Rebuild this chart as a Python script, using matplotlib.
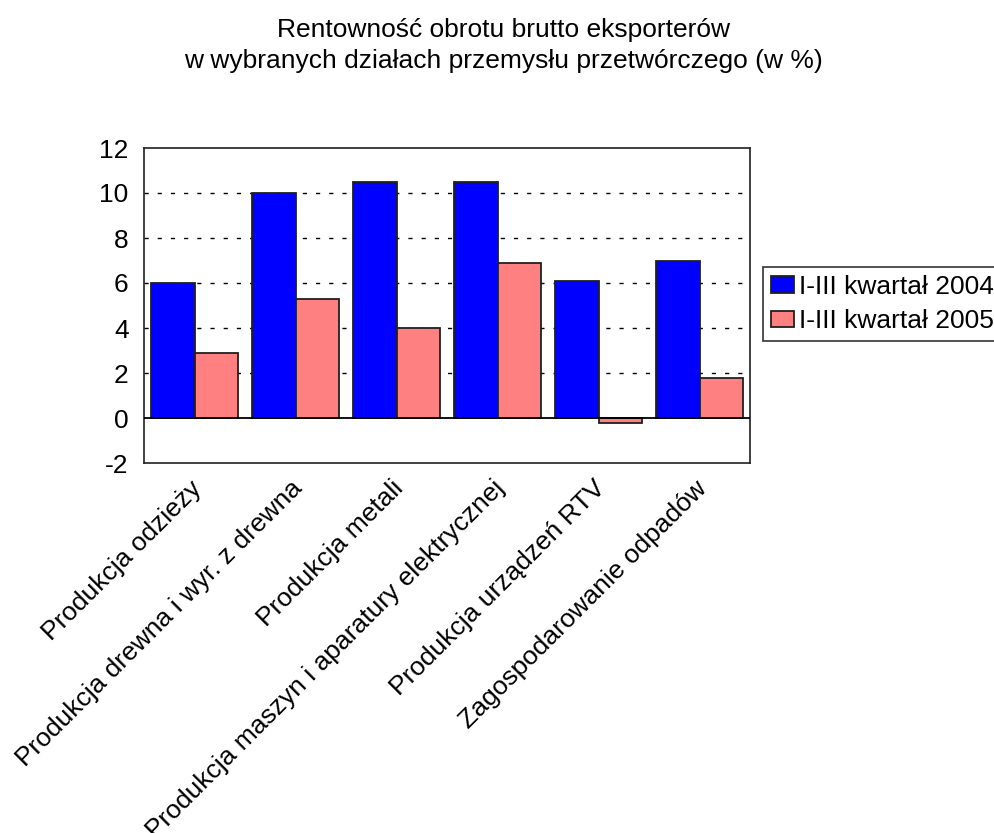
import matplotlib
matplotlib.use("Agg")
import matplotlib.pyplot as plt
import matplotlib.transforms as mtransforms
import numpy as np

categories = [
    "Produkcja odzieży",
    "Produkcja drewna i wyr. z drewna",
    "Produkcja metali",
    "Produkcja maszyn i aparatury elektrycznej",
    "Produkcja urządzeń RTV",
    "Zagospodarowanie odpadów",
]
series_names = ["I-III kwartał 2004", "I-III kwartał 2005"]
values_2004 = [6.0, 10.0, 10.5, 10.5, 6.1, 7.0]
values_2005 = [2.9, 5.3, 4.0, 6.9, -0.2, 1.8]
y_ticks = [-2, 0, 2, 4, 6, 8, 10, 12]
title_lines = [
    "Rentowność obrotu brutto eksporterów",
    "w wybranych działach przemysłu przetwórczego (w %)",
]

plt.rcParams["font.family"] = ["Liberation Sans", "DejaVu Sans"]
FS = 19

W, H = 994, 833
fig = plt.figure(figsize=(W / 100, H / 100), dpi=100)
ax = fig.add_axes([144 / W, 1 - 463 / H, 606 / W, 315 / H])

x = np.arange(len(categories))
w = 0.43
ax.bar(x - w / 2, values_2004, width=w, color="#0000ff", edgecolor="#202020",
       linewidth=1.3, label=series_names[0], zorder=3)
ax.bar(x + w / 2, values_2005, width=w, color="#ff8080", edgecolor="#202020",
       linewidth=1.3, label=series_names[1], zorder=3)

ax.set_xlim(-0.5, len(categories) - 0.5)
ax.set_ylim(-2, 12)
ax.set_yticks(y_ticks)
ax.set_yticklabels([str(t) for t in y_ticks], fontsize=FS)
ax.tick_params(axis="y", length=0, pad=11)
ax.tick_params(axis="x", length=0, pad=6)

# dashed reference lines between the axis limits, solid line at zero
for t in y_ticks[2:-1]:
    ax.axhline(t, color="black", linewidth=1.0, linestyle=(0, (3, 6.5)), zorder=1)
ax.axhline(0, color="black", linewidth=1.3, zorder=4)

ax.set_xticks(x)
ax.set_xticklabels(categories, rotation=45, ha="right", rotation_mode="anchor",
                   fontsize=FS)
shift = mtransforms.ScaledTranslation(-5 / 100, -5 / 100, fig.dpi_scale_trans)
for lbl in ax.get_xticklabels():
    lbl.set_transform(lbl.get_transform() + shift)

for s in ax.spines.values():
    s.set_color("#202020")
    s.set_linewidth(1.2)

fig.text(503 / W, 1 - 37 / H, title_lines[0], ha="center", va="baseline", fontsize=FS)
fig.text(503 / W, 1 - 68 / H, title_lines[1], ha="center", va="baseline", fontsize=FS)

leg = fig.legend(loc="upper left", bbox_to_anchor=(763 / W, 1 - 267 / H),
                 fontsize=FS, frameon=True, fancybox=False, borderpad=0.3,
                 handlelength=0.87, handleheight=0.57, handletextpad=0.2,
                 labelspacing=0.4, borderaxespad=0)
leg.get_frame().set_edgecolor("black")
leg.get_frame().set_linewidth(1.2)

fig.savefig("out.png", dpi=100)
